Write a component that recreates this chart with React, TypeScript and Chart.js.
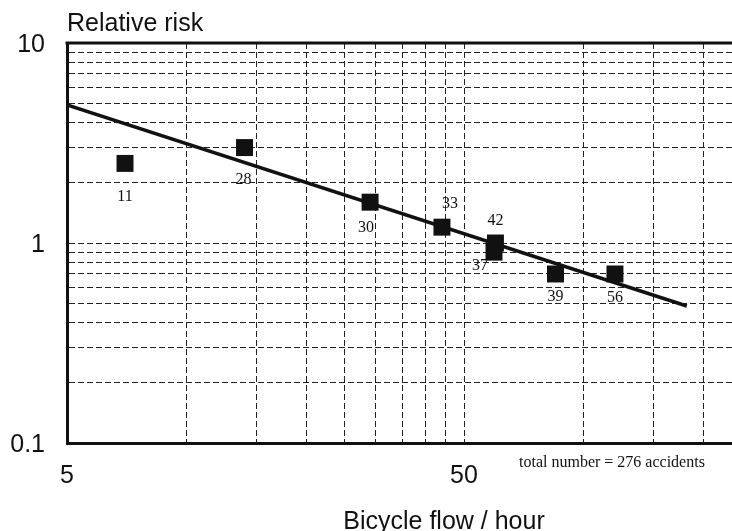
import React, { useEffect, useRef } from "react";
import { Chart, registerables } from "chart.js";

Chart.register(...registerables);

// ---- data ----
const FLOW = [7.0, 14.0, 29, 44, 60, 59.5, 85, 120];
const RISK = [2.5, 3.0, 1.6, 1.2, 1.0, 0.9, 0.7, 0.7];
const ACCIDENTS = ["11", "28", "30", "33", "42", "37", "39", "56"];
const FIT_FLOW = [5, 182];
const FIT_RISK = [4.9, 0.484];
const X_GRID = [5, 10, 15, 20, 25, 30, 35, 40, 45, 50, 100, 150, 200];
const Y_GRID = [0.1, 0.2, 0.3, 0.4, 0.5, 0.6, 0.7, 0.8, 0.9, 1, 2, 3, 4, 5, 6, 7, 8, 9, 10];
const X_LABELS = ["5", "50"];
const X_LABEL_VALUES = [5, 50];
const Y_LABELS = ["0.1", "1", "10"];
const Y_LABEL_VALUES = [0.1, 1, 10];
const X_TITLE = "Bicycle flow / hour";
const Y_TITLE = "Relative risk";
const NOTE = "total number = 276 accidents";

// label offsets (dx, dy) relative to each marker
const LABEL_DX = [0, -1, -4, 8, 0, -14, 0, 0];
const LABEL_DY = [33, 32, 26, -23, -22, 14, 23, 24];

const SANS = "'Liberation Sans', Arial, sans-serif";
const SERIF = "'Liberation Serif', 'Times New Roman', serif";

const textPlugin = {
  id: "textPlugin",
  afterDatasetsDraw(chart: any) {
    const ctx = chart.ctx as CanvasRenderingContext2D;
    const xs = chart.scales.x;
    const ys = chart.scales.y;
    const area = chart.chartArea;
    ctx.save();
    // top frame line
    ctx.strokeStyle = "#111";
    ctx.lineWidth = 3;
    ctx.beginPath();
    ctx.moveTo(area.left - 1.5, area.top);
    ctx.lineTo(chart.width, area.top);
    ctx.stroke();

    // data labels
    const meta = chart.getDatasetMeta(1);
    ctx.fillStyle = "#111";
    ctx.font = `16px ${SERIF}`;
    ctx.textAlign = "center";
    ctx.textBaseline = "middle";
    meta.data.forEach((el: any, i: number) => {
      ctx.fillText(ACCIDENTS[i], el.x + LABEL_DX[i], el.y + LABEL_DY[i]);
    });

    // y tick labels
    ctx.font = `25px ${SANS}`;
    ctx.textAlign = "right";
    ctx.textBaseline = "alphabetic";
    Y_LABEL_VALUES.forEach((v, i) => {
      ctx.fillText(Y_LABELS[i], area.left - 22, ys.getPixelForValue(v) + 9);
    });
    // x tick labels
    ctx.textAlign = "center";
    X_LABEL_VALUES.forEach((v, i) => {
      ctx.fillText(X_LABELS[i], xs.getPixelForValue(v), area.bottom + 40);
    });
    // titles
    ctx.textAlign = "left";
    ctx.fillText(Y_TITLE, area.left, 31);
    ctx.textAlign = "center";
    ctx.fillText(X_TITLE, 444, 529);
    // note
    ctx.font = `16px ${SERIF}`;
    ctx.textAlign = "left";
    ctx.fillText(NOTE, 519, 467);
    ctx.restore();
  },
};

export default function App() {
  const ref = useRef<HTMLCanvasElement | null>(null);
  useEffect(() => {
    if (!ref.current) return;
    const chart = new Chart(ref.current, {
      type: "scatter",
      data: {
        datasets: [
          {
            type: "line",
            data: FIT_FLOW.map((x, i) => ({ x, y: FIT_RISK[i] })),
            borderColor: "#111",
            borderWidth: 3.5,
            pointRadius: 0,
            fill: false,
          } as any,
          {
            data: FLOW.map((x, i) => ({ x, y: RISK[i] })),
            pointStyle: "rect",
            pointRadius: 12,
            backgroundColor: "#111",
            borderColor: "#111",
            borderWidth: 0,
          },
        ],
      },
      options: {
        animation: false,
        responsive: false,
        devicePixelRatio: 1,
        layout: { autoPadding: false, padding: { left: 67, top: 43, right: 0, bottom: 88 } },
        plugins: { legend: { display: false }, tooltip: { enabled: false } },
        scales: {
          x: {
            type: "logarithmic",
            min: 5,
            max: 236.6,
            afterBuildTicks: (s: any) => {
              s.ticks = X_GRID.map((v) => ({ value: v }));
            },
            ticks: { display: false },
            grid: { color: "#222", lineWidth: 1, drawTicks: false },
            border: { display: true, color: "#111", width: 3, dash: [6, 3] },
          },
          y: {
            type: "logarithmic",
            min: 0.1,
            max: 10,
            afterBuildTicks: (s: any) => {
              s.ticks = Y_GRID.map((v) => ({ value: v }));
            },
            ticks: { display: false },
            grid: { color: "#222", lineWidth: 1, drawTicks: false },
            border: { display: true, color: "#111", width: 3, dash: [6, 3] },
          },
        },
      },
      plugins: [textPlugin],
    });
    return () => chart.destroy();
  }, []);
  return (
    <div style={{ position: "absolute", left: 0, top: 0, width: 732, height: 531, background: "#fff" }}>
      <canvas ref={ref} width={732} height={531} />
    </div>
  );
}
